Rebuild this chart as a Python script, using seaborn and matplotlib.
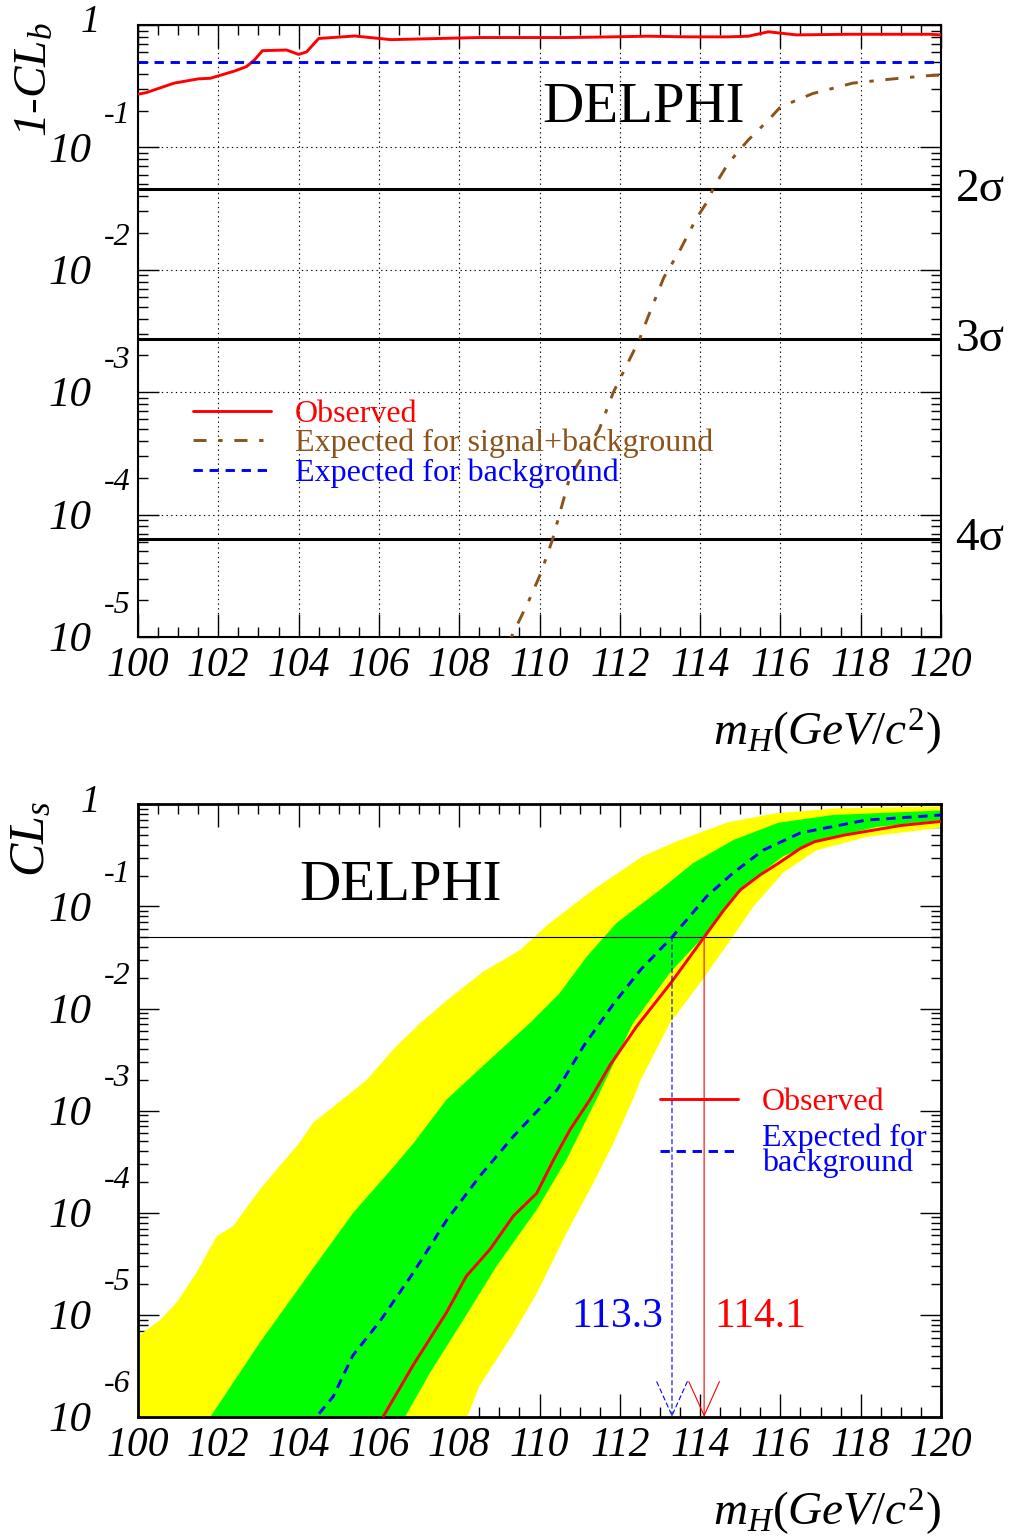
import numpy as np
import pandas as pd
import matplotlib
matplotlib.use("Agg")
import matplotlib.pyplot as plt
import matplotlib.ticker as mticker
import matplotlib.transforms as mtransforms
import seaborn as sns

# ------------------------------------------------------------------
# DATA
# ------------------------------------------------------------------
# --- top panel : 1-CL_b ---
mass_clb_obs = [100.0, 100.2, 100.9, 101.5, 101.8, 102.4, 102.7, 102.9, 103.1, 103.7,
                104.0, 104.2, 104.5, 105.4, 106.3, 107.5, 108.5, 109.5, 110.7, 111.8,
                112.7, 113.7, 114.7, 115.2, 115.7, 116.4, 117.7, 118.7, 119.7, 120.0]
clb_obs = [0.272, 0.28, 0.335, 0.363, 0.367, 0.42, 0.457, 0.518, 0.617, 0.625,
           0.575, 0.603, 0.776, 0.813, 0.759, 0.776, 0.79, 0.79, 0.79, 0.80,
           0.81, 0.80, 0.80, 0.81, 0.88, 0.83, 0.84, 0.84, 0.84, 0.83]

mass_clb_b = [100.0, 120.0]
clb_exp_b = [0.5, 0.5]

mass_clb_sb = [109.1, 109.3, 109.74, 110.03, 110.32, 110.75, 111.2, 111.48, 111.84, 112.49,
               112.7, 113.1, 113.5, 113.9, 114.2, 114.35, 114.7, 115.2, 115.7, 116.0,
               116.8, 117.8, 118.7, 119.65, 120.0]
clb_exp_sb = [6.3e-6, 1.0e-5, 2.0e-5, 3.3e-5, 6.2e-5, 2.0e-4, 3.5e-4, 4.9e-4, 1.0e-3, 2.7e-3,
              4.1e-3, 8.7e-3, 1.45e-2, 2.6e-2, 3.7e-2, 4.8e-2, 7.4e-2, 0.115, 0.167, 0.214,
              0.275, 0.335, 0.36, 0.385, 0.39]

sigma_levels = [4.55e-2, 2.7e-3, 6.33e-5]
sigma_labels = ["2σ", "3σ", "4σ"]

# --- bottom panel : CL_s ---
mass_cls_obs = [105.95, 106.1, 106.85, 107.68, 108.18, 108.77, 109.35, 109.93, 110.35, 110.76,
                111.26, 111.76, 112.41, 113.29, 114.1, 114.6, 115.0, 115.5, 115.96, 116.5,
                116.85, 117.6, 119.0, 120.0]
cls_obs = [7.9e-7, 1.0e-6, 3.2e-6, 1.05e-5, 2.4e-5, 4.4e-5, 9.3e-5, 1.55e-4, 3.3e-4, 6.5e-4,
           1.29e-3, 2.8e-3, 6.6e-3, 1.82e-2, 5.0e-2, 9.3e-2, 0.145, 0.204, 0.266, 0.37,
           0.43, 0.50, 0.62, 0.68]

mass_cls_exp = [104.3, 104.44, 104.86, 105.35, 106.03, 106.86, 107.69, 108.52, 109.35, 110.1,
                110.44, 111.1, 111.85, 112.52, 113.3, 114.17, 114.83, 115.57, 116.5, 118.13,
                120.0]
cls_exp = [7.9e-7, 1.0e-6, 1.58e-6, 4.0e-6, 8.7e-6, 2.6e-5, 8.5e-5, 2.3e-4, 5.6e-4, 1.15e-3,
           1.6e-3, 4.3e-3, 1.12e-2, 2.4e-2, 5.0e-2, 0.126, 0.214, 0.355, 0.525, 0.70,
           0.785]

# 1 sigma band (green)
mass_green_hi = [101.7, 101.8, 103.04, 104.45, 105.36, 106.36, 106.86, 107.69, 108.85, 109.76,
                 110.5, 111.17, 111.92, 113.0, 113.83, 114.83, 115.95, 117.3, 120.0]
green_hi = [7.9e-7, 1.0e-6, 5.4e-6, 3.2e-5, 1.0e-4, 2.8e-4, 4.8e-4, 1.29e-3, 3.4e-3, 7.2e-3,
            1.41e-2, 3.2e-2, 6.9e-2, 0.145, 0.266, 0.447, 0.66, 0.785, 0.87]
mass_green_lo = [106.55, 106.65, 107.27, 108.1, 108.93, 109.93, 110.67, 111.42, 112.33, 113.25,
                 114.17, 115.07, 116.07, 117.0, 118.4, 120.0]
green_lo = [7.9e-7, 1.0e-6, 2.7e-6, 8.9e-6, 3.0e-5, 1.07e-4, 3.3e-4, 1.29e-3, 7.2e-3, 2.24e-2,
            5.5e-2, 0.155, 0.31, 0.447, 0.60, 0.70]

# 2 sigma band (yellow)
mass_yellow_hi = [100.0, 100.55, 100.96, 101.46, 101.96, 102.37, 103.04, 103.6, 104.03, 104.36,
                  105.7, 106.36, 107.03, 107.69, 108.6, 109.5, 110.2, 111.33, 112.57, 113.5,
                  114.66, 115.83, 117.3, 120.0]
yellow_hi = [6.2e-6, 8.9e-6, 1.32e-5, 2.6e-5, 5.9e-5, 7.4e-5, 1.7e-4, 3.1e-4, 4.9e-4, 7.6e-4,
             2.0e-3, 4.0e-3, 7.2e-3, 1.2e-2, 2.3e-2, 3.7e-2, 6.6e-2, 0.145, 0.31, 0.447,
             0.66, 0.81, 0.91, 0.955]
mass_yellow_lo = [100.0, 108.1, 108.2, 108.5, 109.35, 109.93, 110.67, 111.34, 111.84, 112.33,
                  112.52, 113.25, 114.0, 114.76, 115.33, 116.07, 116.9, 118.15, 120.0]
yellow_lo = [1.0e-7, 7.9e-7, 1.0e-6, 2.0e-6, 6.6e-6, 1.62e-5, 6.3e-5, 1.95e-4, 4.8e-4, 1.29e-3,
             2.0e-3, 7.2e-3, 1.78e-2, 4.7e-2, 0.10, 0.214, 0.355, 0.48, 0.59]

cls_level = 0.05
limit_exp = 113.3
limit_obs = 114.1

# ------------------------------------------------------------------
# STYLE
# ------------------------------------------------------------------
sns.set_theme(style="ticks")
plt.rcParams["font.family"] = ["Liberation Serif", "DejaVu Serif"]
plt.rcParams["mathtext.fontset"] = "custom"
plt.rcParams["mathtext.rm"] = "Liberation Serif"
plt.rcParams["mathtext.it"] = "Liberation Serif:italic"
plt.rcParams["mathtext.bf"] = "Liberation Serif:bold"
for key in ["text.color", "axes.labelcolor", "xtick.color", "ytick.color",
            "xtick.labelcolor", "ytick.labelcolor", "axes.edgecolor"]:
    plt.rcParams[key] = "black"

RED = "#FF0000"
BLUE = "#0000FF"
BROWN = "#8B5219"
YELLOW = "#FFFF00"
GREEN = "#00FF00"

fig = plt.figure(figsize=(10.14, 15.36), dpi=100)
ax1 = fig.add_axes([138 / 1014, 1 - 637 / 1536, 803 / 1014, 612 / 1536])
ax2 = fig.add_axes([138 / 1014, 1 - 1417 / 1536, 803 / 1014, 612.7 / 1536])


def px_offset(ax, dx, dy):
    base = mtransforms.blended_transform_factory(ax.transAxes, ax.transData)
    return base + mtransforms.ScaledTranslation(dx / 100, dy / 100, fig.dpi_scale_trans)


def style_axes(ax, ymin, spine_lw):
    ax.set_xlim(100, 120)
    ax.set_yscale("log")
    ax.set_ylim(ymin, 1)
    ax.xaxis.set_major_locator(mticker.MultipleLocator(2))
    ax.xaxis.set_minor_locator(mticker.MultipleLocator(0.5))
    ax.yaxis.set_major_locator(mticker.LogLocator(base=10, numticks=20))
    ax.yaxis.set_minor_locator(mticker.LogLocator(base=10, subs=np.arange(2, 10), numticks=20))
    ax.yaxis.set_major_formatter(mticker.NullFormatter())
    ax.yaxis.set_minor_formatter(mticker.NullFormatter())
    ax.tick_params(axis="both", which="both", direction="in", top=True, right=True,
                   color="black", width=1.0)
    ax.tick_params(axis="x", which="major", length=16.5, labelsize=30, pad=7,
                   labelcolor="black")
    ax.tick_params(axis="x", which="minor", length=7.2)
    ax.tick_params(axis="y", which="major", length=15)
    ax.tick_params(axis="y", which="minor", length=7.2)
    for lab in ax.get_xticklabels():
        lab.set_fontstyle("italic")
    for sp in ax.spines.values():
        sp.set_linewidth(spine_lw)
        sp.set_color("black")
    # ROOT-like y tick labels: "10" with exponent above-right
    emin = int(round(np.log10(ymin)))
    for e in range(emin, 1):
        if e == 0:
            ax.text(0, 1.0, "1", transform=px_offset(ax, -48, 2), ha="center", va="center",
                    fontsize=28, fontstyle="italic")
        else:
            ax.text(0, 10.0 ** e, "10", transform=px_offset(ax, -47, -4), ha="right",
                    va="center", fontsize=31, fontstyle="italic")
            ax.text(0, 10.0 ** e, f"-{abs(e)}", transform=px_offset(ax, -8, 32), ha="right",
                    va="center", fontsize=23, fontstyle="italic")
    ax.text(1.0, -0.155, r"$m_{H}(GeV/c^{2})$", transform=ax.transAxes, ha="right",
            va="center", fontsize=34)


# ------------------------------------------------------------------
# TOP PANEL
# ------------------------------------------------------------------
style_axes(ax1, 1e-5, 1.5)
ax1.grid(True, which="major", color="black", linestyle=(0, (1.2, 3)), linewidth=0.8)
for lvl, lab in zip(sigma_levels, sigma_labels):
    ax1.axhline(lvl, color="black", linewidth=2.2, zorder=2)
    ax1.text(1.018, lvl, lab,
             transform=mtransforms.blended_transform_factory(ax1.transAxes, ax1.transData),
             ha="left", va="center", fontsize=34)

df_obs_b = pd.DataFrame({"m": mass_clb_obs, "v": clb_obs})
df_sb = pd.DataFrame({"m": mass_clb_sb, "v": clb_exp_sb})
df_b = pd.DataFrame({"m": mass_clb_b, "v": clb_exp_b})

sns.lineplot(data=df_obs_b, x="m", y="v", ax=ax1, color=RED, linewidth=2.1,
             estimator=None, legend=False, zorder=4)
l_obs = ax1.lines[-1]
sns.lineplot(data=df_sb, x="m", y="v", ax=ax1, color=BROWN, linewidth=2.1,
             linestyle=(0, (4.5, 4, 1.5, 4)), estimator=None, legend=False, zorder=4)
l_sb = ax1.lines[-1]
sns.lineplot(data=df_b, x="m", y="v", ax=ax1, color=BLUE, linewidth=2.1,
             linestyle=(0, (3.2, 2.3)), estimator=None, legend=False, zorder=4)
l_b = ax1.lines[-1]

leg1 = ax1.legend([l_obs, l_sb, l_b],
                  ["Observed", "Expected for signal+background", "Expected for background"],
                  loc="upper left", bbox_to_anchor=(0.0685, 0.388), frameon=False,
                  fontsize=23, handlelength=2.45, handletextpad=0.75, labelspacing=0.0,
                  borderpad=0, borderaxespad=0)
for txt, col in zip(leg1.get_texts(), [RED, BROWN, BLUE]):
    txt.set_color(col)

ax1.text(0.629, 0.864, "DELPHI", transform=ax1.transAxes, ha="center", va="center", fontsize=41)
ax1.text(-0.128, 1.005, "1-CL$_{b}$", transform=ax1.transAxes, ha="center", va="top",
         rotation=90, fontsize=34, fontstyle="italic")
ax1.set_xlabel("")
ax1.set_ylabel("")

# ------------------------------------------------------------------
# BOTTOM PANEL
# ------------------------------------------------------------------
style_axes(ax2, 1e-6, 2.0)
ax2.grid(False)

ax2.fill(np.concatenate([mass_yellow_hi, mass_yellow_lo[::-1]]),
         np.concatenate([yellow_hi, yellow_lo[::-1]]), color=YELLOW, linewidth=0, zorder=1)
ax2.fill(np.concatenate([mass_green_hi, mass_green_lo[::-1]]),
         np.concatenate([green_hi, green_lo[::-1]]), color=GREEN, linewidth=0, zorder=1.5)

df_obs_s = pd.DataFrame({"m": mass_cls_obs, "v": cls_obs})
df_exp_s = pd.DataFrame({"m": mass_cls_exp, "v": cls_exp})
sns.lineplot(data=df_obs_s, x="m", y="v", ax=ax2, color=RED, linewidth=2.1,
             estimator=None, legend=False, zorder=4)
l2_obs = ax2.lines[-1]
sns.lineplot(data=df_exp_s, x="m", y="v", ax=ax2, color=BLUE, linewidth=2.1,
             linestyle=(0, (3.2, 2.3)), estimator=None, legend=False, zorder=4)
l2_exp = ax2.lines[-1]

ax2.axhline(cls_level, color="black", linewidth=0.8, zorder=3)
ax2.annotate("", xy=(limit_exp, 1e-6), xytext=(limit_exp, cls_level),
             arrowprops=dict(arrowstyle="->,head_length=2.45,head_width=1.1", color=BLUE,
                             linestyle=(0, (4, 3)), lw=0.8, shrinkA=0, shrinkB=0,
                             mutation_scale=10), zorder=5)
ax2.annotate("", xy=(limit_obs, 1e-6), xytext=(limit_obs, cls_level),
             arrowprops=dict(arrowstyle="->,head_length=2.45,head_width=1.1", color=RED,
                             lw=0.8, shrinkA=0, shrinkB=0, mutation_scale=10), zorder=5)
ax2.text(111.93, 10 ** -5.02, f"{limit_exp:.1f}", color=BLUE, ha="center", va="center", fontsize=30)
ax2.text(115.5, 10 ** -5.02, f"{limit_obs:.1f}", color=RED, ha="center", va="center", fontsize=30)

leg2 = ax2.legend([l2_obs, l2_exp], ["Observed", "Expected for\nbackground"],
                  loc="upper left", bbox_to_anchor=(0.650, 0.537), frameon=False,
                  fontsize=23, handlelength=2.45, handletextpad=0.75, labelspacing=0.2,
                  borderpad=0, borderaxespad=0)
for txt, col in zip(leg2.get_texts(), [RED, BLUE]):
    txt.set_color(col)
    txt.set_linespacing(0.8)

ax2.text(0.3275, 0.867, "DELPHI", transform=ax2.transAxes, ha="center", va="center", fontsize=41)
ax2.text(-0.132, 1.005, "CL$_{s}$", transform=ax2.transAxes, ha="center", va="top",
         rotation=90, fontsize=36, fontstyle="italic")
ax2.set_xlabel("")
ax2.set_ylabel("")

fig.savefig("out.png", dpi=100)
